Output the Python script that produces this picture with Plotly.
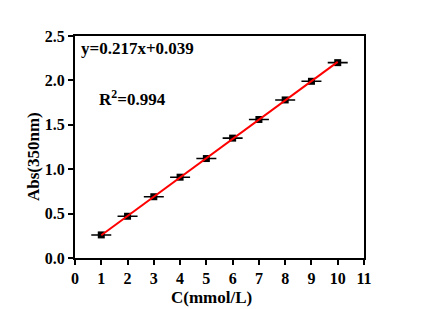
import plotly.graph_objects as go

conc = [1, 2, 3, 4, 5, 6, 7, 8, 9, 10]
absorb = [0.26, 0.47, 0.69, 0.91, 1.12, 1.35, 1.56, 1.78, 1.99, 2.20]
err = [0.002] * 10
slope = 0.217
intercept = 0.039
fit_x = [1, 10]
fit_y = [slope * x + intercept for x in fit_x]

fig = go.Figure()
fig.add_trace(go.Scatter(
    x=conc, y=absorb, mode="markers",
    marker=dict(symbol="square", size=7, color="black"),
    error_y=dict(type="data", array=err, color="black", thickness=1.2, width=10),
    showlegend=False))
fig.add_trace(go.Scatter(
    x=fit_x, y=fit_y, mode="lines",
    line=dict(color="red", width=2), showlegend=False))

tf = dict(family="Liberation Serif", size=16, color="black", weight="bold")
L, R, T, B = 75, 59, 36, 51
W, H = 423, 309
pw, ph = W - L - R, H - T - B

def px(x):
    return (x - L) / pw

def py(y):
    return (H - B - y) / ph

fig.update_layout(
    width=W, height=H,
    margin=dict(l=L, r=R, t=T, b=B),
    plot_bgcolor="white", paper_bgcolor="white",
    font=dict(family="Liberation Serif", size=16, color="black"),
    xaxis=dict(range=[0, 11], dtick=1, tick0=0, showgrid=False, zeroline=False,
               showline=True, linecolor="black", linewidth=2, mirror=True,
               ticks="outside", ticklen=5, tickwidth=2, tickcolor="black",
               tickfont=tf, automargin=False),
    yaxis=dict(range=[0, 2.5], dtick=0.5, tick0=0, showgrid=False, zeroline=False,
               showline=True, linecolor="black", linewidth=2, mirror=True,
               ticks="outside", ticklen=5, tickwidth=2, tickcolor="black",
               tickformat=".1f", tickfont=tf, automargin=False),
    annotations=[
        dict(x=0.15, y=2.36, xref="x", yref="y", xanchor="left", yanchor="middle",
             text="<b>y=0.217x+0.039</b>", showarrow=False, font=dict(size=17)),
        dict(x=0.85, y=1.80, xref="x", yref="y", xanchor="left", yanchor="middle",
             text="<b>R<sup>2</sup>=0.994</b>", showarrow=False, font=dict(size=17)),
        dict(x=px(211), y=py(297), xref="paper", yref="paper", xanchor="center",
             yanchor="middle", text="<b>C(mmol/L)</b>", showarrow=False,
             font=dict(size=17)),
        dict(x=px(33), y=py(157), xref="paper", yref="paper", xanchor="center",
             yanchor="middle", text="<b>Abs(350nm)</b>", showarrow=False,
             textangle=-90, font=dict(size=17)),
    ],
)
fig.write_html("out.html")
